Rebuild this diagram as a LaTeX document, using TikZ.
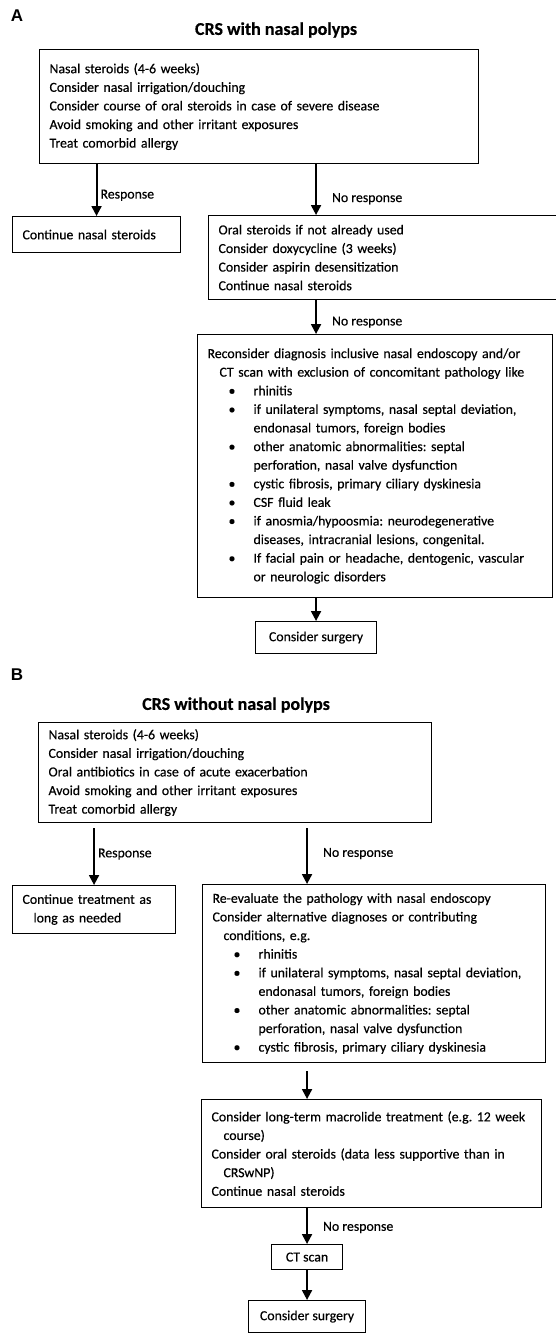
\documentclass[tikz,border=0pt]{standalone}
\usepackage{fontspec}
\setmainfont{Carlito}[FakeBold=0.4]
\newfontfamily\panelfont{Liberation Sans}
\usetikzlibrary{arrows.meta}
\frenchspacing

% bullet item and continuation indent inside the boxes
\newcommand{\bul}{\makebox[46pt][l]{\hspace*{21pt}\textbullet}}
\newcommand{\cont}{\hspace*{46pt}}

\begin{document}
\begin{tikzpicture}[x=1pt, y=-1pt,
  every node/.style={font=\fontsize{13.8}{18.6}\selectfont},
  box/.style={draw, line width=1.1pt, anchor=north west, align=left,
    inner xsep=10pt, inner ysep=0pt},
  smallbox/.style={draw, line width=1.1pt, anchor=north west, align=center,
    inner sep=0pt},
  arr/.style={-{Triangle[length=10pt,width=10pt]}, line width=2pt},
  title/.style={font=\fontsize{18}{22}\selectfont\bfseries},
  panel/.style={font=\fontsize{17}{20}\selectfont\panelfont\bfseries},
  lbl/.style={anchor=west, inner sep=0pt}
]
  \useasboundingbox (0,0) rectangle (555,1342);

  % ---- A: CRS with nasal polyps ----
  \node[panel] (panelA) at (17,16) {A};
  \node[title] (titleA) at (276,30) {CRS with nasal polyps};
  \node[box, text width=419pt, minimum height=114pt] (npInit) at (39,49)
    {Nasal steroids (4-6 weeks)\\
     Consider nasal irrigation/douching\\
     Consider course of oral steroids in case of severe disease\\
     Avoid smoking and other irritant exposures\\
     Treat comorbid allergy};
  \node[box, text width=148pt, minimum height=36pt] (npResp) at (12,216)
    {Continue nasal steroids};
  \node[box, text width=330pt, minimum height=84pt] (npNoResp) at (208,215)
    {Oral steroids if not already used\\
     Consider doxycycline (3 weeks)\\
     Consider aspirin desensitization\\
     Continue nasal steroids};
  \node[box, text width=335pt, minimum height=263pt] (npDiag) at (197,334)
    {\mbox{Reconsider diagnosis inclusive nasal endoscopy and/or}\\
     \hspace*{12pt}CT scan with exclusion of concomitant pathology like\\
     \bul rhinitis\\
     \bul if unilateral symptoms, nasal septal deviation,\\
     \cont endonasal tumors, foreign bodies\\
     \bul other anatomic abnormalities: septal\\
     \cont perforation, nasal valve dysfunction\\
     \bul cystic fibrosis, primary ciliary dyskinesia\\
     \bul CSF fluid leak\\
     \bul if anosmia/hypoosmia: neurodegenerative\\
     \cont diseases, intracranial lesions, congenital.\\
     \bul If facial pain or headache, dentogenic, vascular\\
     \cont or neurologic disorders};
  \node[smallbox, minimum width=121pt, minimum height=32pt] (npSurg) at (255,621)
    {Consider surgery};

  \draw[arr] (npInit.south -| npResp) -- (npResp.north)
    node[lbl, pos=0.6, xshift=3pt] {Response};
  \draw[arr] (npInit.south -| npSurg) -- (npNoResp.north -| npSurg)
    node[lbl, pos=0.68, xshift=15pt] {No response};
  \draw[arr] (npNoResp.south -| npSurg) -- (npDiag.north -| npSurg)
    node[lbl, pos=0.65, xshift=15pt] {No response};
  \draw[arr] (npDiag.south -| npSurg) -- (npSurg.north);

  % ---- B: CRS without nasal polyps ----
  \node[panel] (panelB) at (17,675) {B};
  \node[title] (titleB) at (236,705) {CRS without nasal polyps};
  \node[box, text width=373pt, minimum height=100pt] (nnInit) at (38,722)
    {Nasal steroids (4-6 weeks)\\
     Consider nasal irrigation/douching\\
     Oral antibiotics in case of acute exacerbation\\
     Avoid smoking and other irritant exposures\\
     Treat comorbid allergy};
  \node[box, text width=143pt, minimum height=48pt] (nnResp) at (12,885)
    {Continue treatment as\\
     \hspace*{11pt}long as needed};
  \node[box, text width=323pt, minimum height=178pt] (nnNoResp) at (202,884)
    {Re-evaluate the pathology with nasal endoscopy\\
     Consider alternative diagnoses or contributing\\
     \hspace*{11pt}conditions, e.g.\\
     \bul rhinitis\\
     \bul if unilateral symptoms, nasal septal deviation,\\
     \cont endonasal tumors, foreign bodies\\
     \bul other anatomic abnormalities: septal\\
     \cont perforation, nasal valve dysfunction\\
     \bul cystic fibrosis, primary ciliary dyskinesia};
  \node[box, text width=320pt, minimum height=108pt] (nnMacro) at (201,1099)
    {\mbox{Consider long-term macrolide treatment (e.g. 12 week}\\
     \hspace*{12pt}course)\\
     Consider oral steroids (data less supportive than in\\
     \hspace*{12pt}CRSwNP)\\
     Continue nasal steroids};
  \node[smallbox, minimum width=71pt, minimum height=25pt] (nnCT) at (271,1244)
    {CT scan};
  \node[smallbox, minimum width=117pt, minimum height=32pt] (nnSurg) at (248,1300)
    {Consider surgery};

  \draw[arr, shorten <=5pt] (nnInit.south -| nnResp) -- (nnResp.north)
    node[lbl, pos=0.5, xshift=3pt] {Response};
  \draw[arr, shorten <=5pt] (nnInit.south -| nnCT) -- (nnNoResp.north -| nnCT)
    node[lbl, pos=0.5, xshift=15pt] {No response};
  \draw[arr, shorten <=8pt] (nnNoResp.south -| nnCT) -- (nnMacro.north -| nnCT);
  \draw[arr] (nnMacro.south -| nnCT) -- (nnCT.north)
    node[lbl, pos=0.54, xshift=15pt] {No response};
  \draw[arr] (nnCT.south) -- (nnSurg.north);
\end{tikzpicture}
\end{document}
